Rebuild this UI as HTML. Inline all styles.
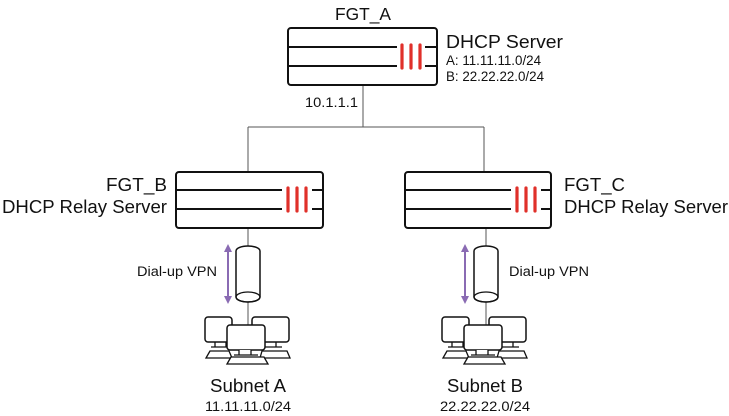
<!DOCTYPE html>
<html><head><meta charset="utf-8"><style>
html,body{margin:0;padding:0;background:#fff;}
svg{display:block;}
text{font-family:"Liberation Sans",Arial,sans-serif;fill:#111;}
</style></head><body>
<svg width="729" height="416" viewBox="0 0 729 416" xmlns="http://www.w3.org/2000/svg">
<defs>
<g id="comp">
  <rect x="-43" y="0" width="27" height="25" rx="3" fill="#fff" stroke="#111" stroke-width="1.5"/>
  <path d="M-33 25 v5 M-22 25 v5 M-37 30 h20 M-38 34 l-4 7 h26 l-3 -7 z" fill="#fff" stroke="#111" stroke-width="1.3"/>
  <rect x="4" y="0" width="37" height="25" rx="3" fill="#fff" stroke="#111" stroke-width="1.5"/>
  <path d="M16 25 v5 M28 25 v5 M14 30 h20 M14 34 l-2 7 h30 l-3 -7 z" fill="#fff" stroke="#111" stroke-width="1.3"/>
  <rect x="-21" y="8" width="38" height="25" rx="3" fill="#fff" stroke="#111" stroke-width="1.5"/>
  <path d="M-9 33 v5 h12 v-5 M-14 38 h24 M-17 40 l-4 7 h41 l-4 -7 z" fill="#fff" stroke="#111" stroke-width="1.3"/>
</g>
<g id="cyl">
  <path d="M-12 6 a12 5 0 0 1 24 0 v46 a12 5 0 0 1 -24 0 z" fill="#fff" stroke="#111" stroke-width="1.5"/>
  <ellipse cx="0" cy="52" rx="12" ry="5" fill="none" stroke="#111" stroke-width="1.3"/>
</g>
</defs>

<g stroke="#555" stroke-width="1" fill="none">
  <line x1="363" y1="85" x2="363" y2="127"/>
  <line x1="248" y1="127" x2="484" y2="127"/>
  <line x1="248" y1="127" x2="248" y2="172"/>
  <line x1="484" y1="127" x2="484" y2="172"/>
  <line x1="248" y1="228" x2="248" y2="325"/>
  <line x1="486" y1="228" x2="486" y2="325"/>
</g>

<g stroke="#111" stroke-width="2" fill="none">
  <rect x="288" y="28" width="149" height="57" rx="3" fill="#fff"/>
  <path d="M288 47 H397 M425 47 H437 M288 66 H397 M425 66 H437"/>
</g>
<g stroke="#e0302a" stroke-width="3.2" stroke-linecap="round">
  <line x1="402" y1="45" x2="402" y2="68"/><line x1="411" y1="45" x2="411" y2="68"/><line x1="420" y1="45" x2="420" y2="68"/>
</g>

<g stroke="#111" stroke-width="2" fill="none">
  <rect x="176" y="172" width="147" height="56" rx="3" fill="#fff"/>
  <path d="M176 190 H282 M312 190 H323 M176 209 H282 M312 209 H323"/>
</g>
<g stroke="#e0302a" stroke-width="3.2" stroke-linecap="round">
  <line x1="288" y1="188" x2="288" y2="211"/><line x1="297" y1="188" x2="297" y2="211"/><line x1="306" y1="188" x2="306" y2="211"/>
</g>

<g stroke="#111" stroke-width="2" fill="none">
  <rect x="405" y="172" width="146" height="56" rx="3" fill="#fff"/>
  <path d="M405 190 H511 M541 190 H551 M405 209 H511 M541 209 H551"/>
</g>
<g stroke="#e0302a" stroke-width="3.2" stroke-linecap="round">
  <line x1="517" y1="188" x2="517" y2="211"/><line x1="526" y1="188" x2="526" y2="211"/><line x1="535" y1="188" x2="535" y2="211"/>
</g>

<use href="#cyl" transform="translate(248,245)"/>
<use href="#cyl" transform="translate(486,245)"/>

<g stroke="#8a6bb3" stroke-width="2" fill="#8a6bb3">
  <line x1="228" y1="250" x2="228" y2="298"/>
  <path d="M228 244 l-4 8 h8 z M228 304 l-4 -8 h8 z" stroke="none"/>
  <line x1="465" y1="250" x2="465" y2="298"/>
  <path d="M465 244 l-4 8 h8 z M465 304 l-4 -8 h8 z" stroke="none"/>
</g>

<use href="#comp" transform="translate(248,317)"/>
<use href="#comp" transform="translate(485,317)"/>

<text x="335" y="20" font-size="17.5" textLength="56" lengthAdjust="spacingAndGlyphs">FGT_A</text>
<text x="446" y="48" font-size="18" textLength="117" lengthAdjust="spacingAndGlyphs">DHCP Server</text>
<text x="446" y="65" font-size="13.5" textLength="95" lengthAdjust="spacingAndGlyphs">A: 11.11.11.0/24</text>
<text x="446" y="81" font-size="13.5" textLength="98" lengthAdjust="spacingAndGlyphs">B: 22.22.22.0/24</text>
<text x="305" y="107" font-size="13.5" textLength="53" lengthAdjust="spacingAndGlyphs">10.1.1.1</text>

<text x="106" y="191" font-size="18" textLength="61" lengthAdjust="spacingAndGlyphs">FGT_B</text>
<text x="2" y="213" font-size="18" textLength="165" lengthAdjust="spacingAndGlyphs">DHCP Relay Server</text>
<text x="564" y="191" font-size="18" textLength="61" lengthAdjust="spacingAndGlyphs">FGT_C</text>
<text x="564" y="213" font-size="18" textLength="164" lengthAdjust="spacingAndGlyphs">DHCP Relay Server</text>

<text x="137" y="276" font-size="13.5" textLength="80" lengthAdjust="spacingAndGlyphs">Dial-up VPN</text>
<text x="509" y="276" font-size="13.5" textLength="80" lengthAdjust="spacingAndGlyphs">Dial-up VPN</text>

<text x="210" y="392" font-size="18" textLength="76" lengthAdjust="spacingAndGlyphs">Subnet A</text>
<text x="205" y="411" font-size="13.5" textLength="86" lengthAdjust="spacingAndGlyphs">11.11.11.0/24</text>
<text x="447" y="392" font-size="18" textLength="76" lengthAdjust="spacingAndGlyphs">Subnet B</text>
<text x="440" y="411" font-size="13.5" textLength="90" lengthAdjust="spacingAndGlyphs">22.22.22.0/24</text>
</svg>
</body></html>
